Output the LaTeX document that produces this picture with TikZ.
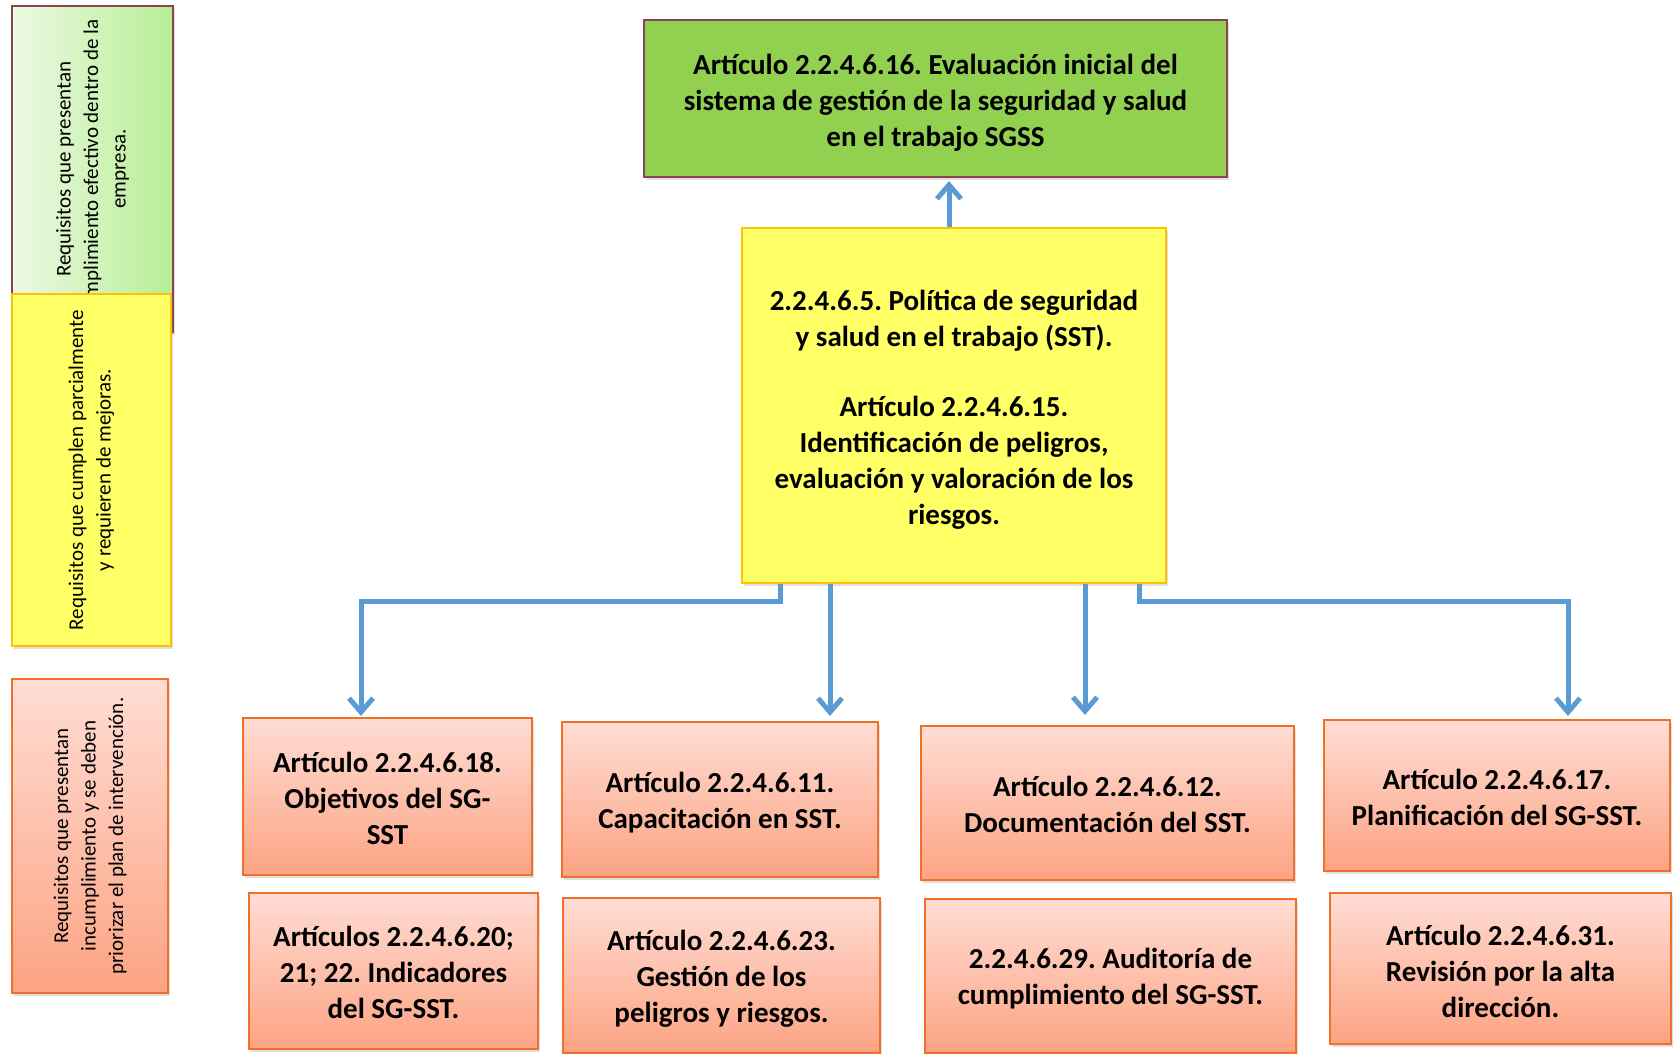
\documentclass[tikz,border=0pt]{standalone}
\usepackage{fontspec}
\setmainfont{Carlito}
\frenchspacing
\usetikzlibrary{arrows.meta,shadows}
\definecolor{arrowblue}{HTML}{5B9BD5}
\definecolor{topgreen}{HTML}{92D050}
\definecolor{maroon}{HTML}{8C4453}
\definecolor{yelfill}{HTML}{FFFF66}
\definecolor{yelborder}{HTML}{FFC000}
\definecolor{pinktop}{HTML}{FFDDD4}
\definecolor{pinkbot}{HTML}{FCA383}
\definecolor{pinkborder}{HTML}{F0702A}
\definecolor{leglight}{HTML}{ECF9E3}
\definecolor{legdark}{HTML}{B7EE95}
\begin{document}
\begin{tikzpicture}[x=1pt,y=-1pt,
  shad/.style={drop shadow={opacity=0.25,shadow xshift=2pt,shadow yshift=-3pt}},
  box/.style={draw,line width=2pt,inner sep=0pt,shad},
  pinkbox/.style={box,draw=pinkborder,top color=pinktop,bottom color=pinkbot},
  txt/.style={align=center,inner sep=0pt,font=\frenchspacing\bfseries\fontsize{29}{36}\selectfont},
  legtext/.style={rotate=90,align=center,inner sep=0pt,font=\frenchspacing\fontsize{21}{27.5}\selectfont},
  arr/.style={draw=arrowblue,line width=5pt,-{Straight Barb[length=14pt,width=24pt]}}]
\useasboundingbox (0,0) rectangle (1674,1054);

% legend
\node[box,draw=maroon,left color=leglight,right color=legdark,
  minimum width=161pt,minimum height=326pt] (leg1) at (92.5,169) {};
\node[legtext] (leg1t) at (leg1.center) {Requisitos que presentan\\cumplimiento efectivo dentro de la\\empresa.};
\node[box,draw=yelborder,fill=yelfill,
  minimum width=159pt,minimum height=352pt] (leg2) at (91.5,470) {};
\node[legtext] (leg2t) at (leg2.center) {Requisitos que cumplen parcialmente\\y requieren de mejoras.};
\node[box,draw=pinkborder,top color=pinktop,bottom color=pinkbot,
  minimum width=156pt,minimum height=314pt] (leg3) at (90,836) {};
\node[legtext] (leg3t) at (leg3.center) {Requisitos que presentan\\incumplimiento y se deben\\priorizar el plan de intervención.};

% main boxes
\node[box,draw=maroon,fill=topgreen,minimum width=583pt,minimum height=157pt] (top) at (935.5,98.5) {};
\node[txt] (topt) at ([yshift=-4pt]top.center)
  {Artículo 2.2.4.6.16. Evaluación inicial del\\sistema de gestión de la seguridad y salud\\en el trabajo SGSS};
\node[box,draw=yelborder,fill=yelfill,minimum width=424pt,minimum height=355pt] (yel) at (954,405.5) {};
\node[txt] (yelt) at ([yshift=-4.5pt]yel.center)
  {2.2.4.6.5. Política de seguridad\\y salud en el trabajo (SST).\\[34pt]Artículo 2.2.4.6.15.\\Identificación de peligros,\\evaluación y valoración de los\\riesgos.};

\node[pinkbox,minimum width=289pt,minimum height=157pt] (b1) at (387.5,796.5) {};
\node[txt] (b1t) at ([yshift=-2pt]b1.center) {Artículo 2.2.4.6.18.\\Objetivos del SG-\\SST};
\node[pinkbox,minimum width=316pt,minimum height=155pt] (b2) at (720,799.5) {};
\node[txt] (b2t) at ([yshift=-3pt]b2.center) {Artículo 2.2.4.6.11.\\Capacitación en SST.};
\node[pinkbox,minimum width=373pt,minimum height=154pt] (b3) at (1107.5,803) {};
\node[txt] (b3t) at ([yshift=-1.5pt]b3.center) {Artículo 2.2.4.6.12.\\Documentación del SST.};
\node[pinkbox,minimum width=346pt,minimum height=151pt] (b4) at (1497,795.5) {};
\node[txt] (b4t) at ([yshift=-2pt]b4.center) {Artículo 2.2.4.6.17.\\Planificación del SG-SST.};

\node[pinkbox,minimum width=289pt,minimum height=156pt] (c1) at (393.5,971) {};
\node[txt] (c1t) at ([yshift=-1.5pt]c1.center) {Artículos 2.2.4.6.20;\\21; 22. Indicadores\\del SG-SST.};
\node[pinkbox,minimum width=317pt,minimum height=155pt] (c2) at (721.5,975.5) {};
\node[txt] (c2t) at ([yshift=-3.5pt]c2.center) {Artículo 2.2.4.6.23.\\Gestión de los\\peligros y riesgos.};
\node[pinkbox,minimum width=371pt,minimum height=154pt] (c3) at (1110.5,976) {};
\node[txt] (c3t) at ([yshift=-3pt]c3.center) {2.2.4.6.29. Auditoría de\\cumplimiento del SG-SST.};
\node[pinkbox,minimum width=341pt,minimum height=151pt] (c4) at (1500.5,968.5) {};
\node[txt] (c4t) at ([yshift=-2.5pt]c4.center) {Artículo 2.2.4.6.31.\\Revisión por la alta\\dirección.};

% connectors
\coordinate (u) at (949,0);
\coordinate (e1) at (361,601);
\coordinate (a2) at (830,0);
\coordinate (a3) at (1085,0);
\coordinate (e4) at (1568,601);
\coordinate (t3) at (1085,715);

\draw[arr] (yel.north -| u) -- ([yshift=-3pt]top.south -| u);
\draw[arr] ([xshift=39pt]yel.south west) |- (e1) -- ([yshift=1pt]e1 |- b1.north);
\draw[arr] (yel.south -| a2) -- ([yshift=5pt]a2 |- b2.north);
\draw[arr] (yel.south -| a3) -- (t3);
\draw[arr] ([xshift=-28pt]yel.south east) |- (e4) -- ([yshift=3pt]e4 |- b4.north);
\end{tikzpicture}
\end{document}
